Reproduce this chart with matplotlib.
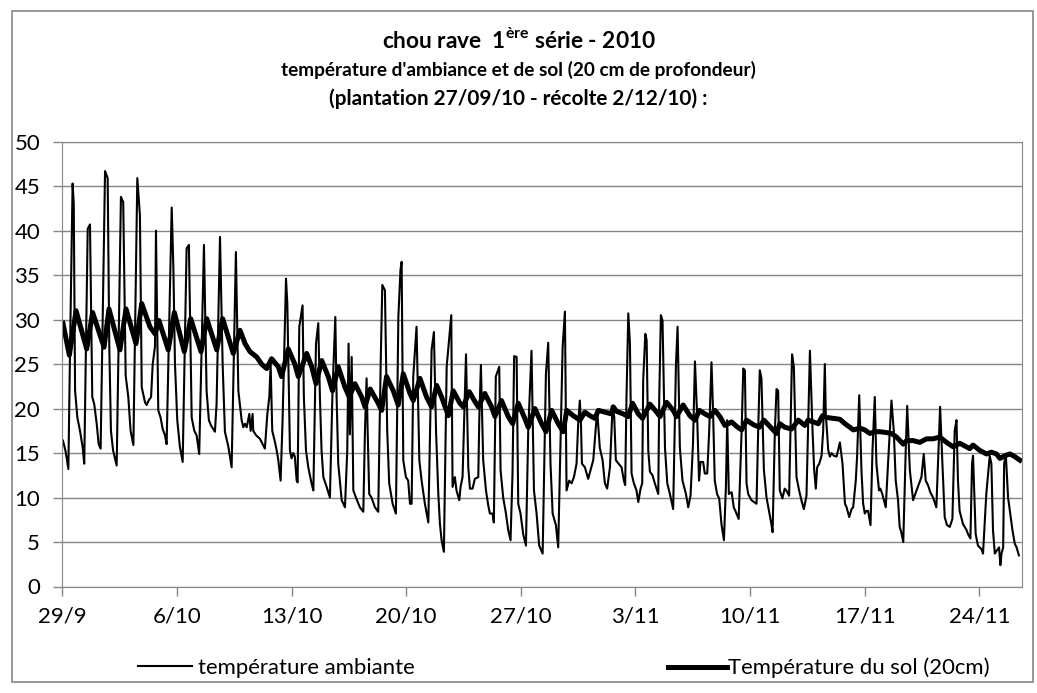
import matplotlib
matplotlib.use("Agg")
import matplotlib.pyplot as plt
from matplotlib.patches import Rectangle

# jours depuis le 29/9 (0 = 29/9 à 0h) et températures
amb_t = [0.04, 0.2, 0.37, 0.5, 0.63, 0.7, 0.78, 0.92, 1.08, 1.24, 1.34, 1.55, 1.69, 1.83, 1.95,
         2.1, 2.22, 2.34, 2.61, 2.77, 2.87, 2.97, 3.1, 3.32, 3.58, 3.72, 3.87, 4.03, 4.17, 4.34,
         4.58, 4.74, 4.85, 5.05, 5.15, 5.27, 5.42, 5.52, 5.66, 5.72, 5.86, 6.0, 6.13, 6.27, 6.37,
         6.68, 6.78, 6.88, 7.02, 7.18, 7.35, 7.59, 7.73, 7.9, 8.06, 8.2, 8.36, 8.65, 8.81, 8.95,
         9.08, 9.32, 9.42, 9.63, 9.79, 9.93, 10.14, 10.34, 10.6, 10.75, 10.95, 11.05, 11.15, 11.26,
         11.42, 11.5, 11.62, 11.66, 11.83, 12.07, 12.37, 12.52, 12.64, 12.72, 12.82, 12.99, 13.09,
         13.19, 13.33, 13.45, 13.66, 13.74, 13.8, 13.9, 14.0, 14.1, 14.2, 14.31, 14.37, 14.47,
         14.67, 14.75, 14.88, 15.02, 15.22, 15.33, 15.49, 15.63, 15.73, 15.83, 15.94, 16.14, 16.34,
         16.5, 16.67, 16.75, 16.85, 17.06, 17.26, 17.4, 17.48, 17.56, 17.67, 17.77, 17.93, 18.17,
         18.38, 18.48, 18.58, 18.64, 18.74, 18.88, 19.09, 19.29, 19.44, 19.54, 19.7, 19.84, 19.96,
         20.17, 20.37, 20.52, 20.65, 20.72, 20.82, 20.98, 21.12, 21.23, 21.33, 21.43, 21.63, 21.8,
         21.94, 22.14, 22.35, 22.55, 22.69, 22.82, 22.96, 23.06, 23.16, 23.3, 23.47, 23.75, 23.83,
         23.97, 24.07, 24.24, 24.32, 24.44, 24.65, 24.79, 24.89, 25.05, 25.19, 25.4, 25.46, 25.56,
         25.7, 25.87, 26.01, 26.11, 26.27, 26.35, 26.47, 26.68, 26.76, 26.92, 27.09, 27.23, 27.37,
         27.49, 27.59, 27.74, 27.84, 27.98, 28.14, 28.31, 28.45, 28.65, 28.8, 28.96, 29.12, 29.33,
         29.53, 29.67, 29.81, 29.94, 30.14, 30.28, 30.55, 30.69, 30.79, 30.95, 31.1, 31.24, 31.4,
         31.5, 31.6, 31.67, 31.73, 31.91, 32.11, 32.26, 32.42, 32.58, 32.66, 32.82, 32.99, 33.13,
         33.27, 33.44, 33.6, 33.7, 33.8, 33.97, 34.15, 34.29, 34.37, 34.45, 34.56, 34.66, 34.76,
         34.9, 35.06, 35.17, 35.31, 35.41, 35.47, 35.6, 35.68, 35.78, 35.88, 36.04, 36.18, 36.39,
         36.45, 36.55, 36.65, 36.8, 36.94, 37.1, 37.3, 37.47, 37.57, 37.71, 37.87, 38.08, 38.22,
         38.36, 38.51, 38.63, 38.76, 38.88, 38.97, 39.13, 39.23, 39.38, 39.5, 39.64, 39.74, 39.84,
         39.98, 40.11, 40.25, 40.4, 40.52, 40.6, 40.7, 40.87, 41.0, 41.1, 41.3, 41.48, 41.58, 41.68,
         41.78, 41.88, 42.08, 42.23, 42.39, 42.49, 42.59, 42.69, 42.84, 43.0, 43.16, 43.3, 43.37,
         43.51, 43.61, 43.71, 43.81, 43.97, 44.11, 44.21, 44.38, 44.46, 44.56, 44.67, 44.83, 44.99,
         45.13, 45.28, 45.44, 45.65, 45.81, 45.91, 46.01, 46.09, 46.22, 46.36, 46.46, 46.56, 46.62,
         46.77, 46.87, 46.97, 47.11, 47.28, 47.48, 47.64, 47.79, 47.89, 48.05, 48.19, 48.29, 48.45,
         48.53, 48.66, 48.8, 48.9, 49.0, 49.1, 49.2, 49.35, 49.47, 49.61, 49.71, 49.87, 49.95, 50.07,
         50.28, 50.42, 50.63, 50.77, 50.89, 51.03, 51.13, 51.23, 51.35, 51.5, 51.59, 51.75, 51.95,
         52.16, 52.32, 52.46, 52.6, 52.72, 52.86, 53.0, 53.17, 53.37, 53.47, 53.6, 53.74, 53.88,
         54.02, 54.19, 54.35, 54.49, 54.6, 54.69, 54.79, 55.0, 55.2, 55.3, 55.45, 55.55, 55.61,
         55.77, 55.91, 56.12, 56.22, 56.42, 56.63, 56.73, 56.83, 56.94, 57.08, 57.2, 57.28, 57.35,
         57.45, 57.51, 57.61, 57.75, 57.86, 58.02, 58.16, 58.27, 58.41]
amb_v = [16.4, 15.2, 13.2, 30.0, 45.3, 43.0, 22.0, 19.0, 17.5, 15.7, 13.8, 40.2, 40.7, 21.3, 20.5,
         18.3, 16.0, 15.5, 46.7, 45.9, 26.9, 17.5, 15.3, 13.6, 43.8, 43.2, 23.7, 21.3, 17.5, 15.9,
         45.9, 41.7, 22.4, 20.7, 20.4, 20.9, 21.3, 25.0, 27.0, 40.0, 19.8, 19.0, 17.7, 17.0, 16.0,
         42.6, 36.0, 25.0, 18.7, 15.7, 14.0, 38.0, 38.4, 19.0, 17.5, 17.0, 14.9, 38.4, 22.0, 18.7,
         18.1, 17.4, 20.5, 39.3, 25.0, 17.4, 15.7, 13.4, 37.6, 22.0, 18.7, 17.9, 18.3, 17.9,
         19.4, 17.5, 19.4, 17.5, 17.0, 16.6, 15.5, 19.4, 21.3, 25.0, 17.5, 16.2, 15.3,
         14.2, 11.9, 18.7, 34.6, 31.8, 25.8, 15.3, 14.4, 15.0, 14.6, 11.9, 11.7, 29.2,
         31.6, 21.3, 15.3, 13.4, 11.6, 10.8, 27.3, 29.6, 21.3, 15.3, 12.3, 11.2, 10.0,
         22.0, 30.3, 21.3, 13.8, 9.7, 8.9, 15.3, 27.3, 17.1, 25.8, 10.8, 10.0, 8.9,
         8.4, 17.5, 23.4, 17.9, 10.4, 10.0, 8.9, 8.4, 25.0, 33.9, 33.3, 17.5, 11.6,
         9.3, 8.2, 30.3, 35.6, 36.5, 14.2, 12.3, 11.9, 9.3, 9.3, 23.6, 29.2, 14.2,
         11.9, 9.3, 7.2, 26.6, 28.6, 17.5, 10.4, 7.0, 5.2, 3.9, 24.7, 30.5, 11.2,
         12.3, 10.8, 9.7, 11.2, 12.3, 26.1, 13.4, 11.0, 11.0, 12.1, 12.3, 18.7, 24.9,
         14.2, 10.8, 9.1, 8.2, 8.2, 7.2, 23.6, 24.7, 13.1, 10.0, 8.2, 6.3, 5.2,
         12.7, 25.9, 25.8, 9.3, 8.2, 5.9, 4.6, 17.5, 26.5, 10.8, 8.2, 4.6, 3.7,
         23.9, 27.4, 13.8, 8.2, 6.9, 4.4, 26.9, 30.9, 10.8, 11.9, 11.6, 12.3, 13.8,
         18.3, 20.9, 18.3, 13.8, 13.4, 12.1, 13.1, 14.2, 17.9, 19.8, 15.6, 14.2, 11.6,
         11.0, 13.4, 20.2, 19.1, 14.2, 13.8, 13.4, 11.9, 11.4, 21.3, 30.7, 27.3, 12.7,
         11.6, 10.8, 9.5, 11.0, 11.6, 23.2, 28.4, 27.7, 15.3, 12.9, 12.5, 11.6, 10.4,
         21.3, 30.5, 29.9, 15.6, 11.6, 10.4, 8.7, 25.0, 29.2, 15.6, 11.9, 10.4, 8.9,
         10.2, 16.0, 25.3, 19.4, 11.9, 14.0, 14.0, 12.7, 12.7, 17.5, 25.2, 19.4, 11.9,
         10.4, 9.9, 7.0, 5.2, 11.2, 18.7, 10.4, 10.6, 8.9, 8.5, 7.6, 17.5, 24.5, 24.3,
         11.6, 10.4, 9.7, 9.5, 9.3, 17.5, 24.3, 23.4, 13.1, 10.0, 8.4, 7.0, 6.1,
         17.5, 22.2, 22.0, 10.8, 9.9, 11.0, 10.8, 10.2, 17.5, 26.1, 24.7, 12.3, 10.8,
         9.7, 8.7, 10.2, 26.5, 17.5, 13.1, 11.0, 13.4, 13.8, 14.7, 17.5, 25.0, 19.4,
         15.3, 14.6, 15.0, 14.7, 14.6, 16.2, 13.8, 9.3, 8.9, 7.8, 8.7, 8.9, 11.9,
         14.6, 21.5, 12.9, 9.3, 8.2, 8.5, 8.5, 6.9, 15.3, 21.3, 13.8, 10.8, 11.0, 10.4,
         8.9, 13.8, 20.9, 17.5, 11.9, 9.7, 6.7, 6.1, 5.0, 15.3, 20.3, 13.1, 9.7,
         10.8, 11.6, 12.3, 14.9, 11.9, 11.4, 10.6, 10.0, 8.9, 13.8, 20.2, 13.8, 7.8,
         6.9, 6.7, 7.6, 17.5, 18.7, 11.9, 8.5, 7.0, 6.4, 5.9, 5.4, 13.8, 14.7,
         5.9, 4.6, 4.2, 3.7, 10.4, 14.7, 13.8, 6.3, 3.7, 4.1, 4.4, 2.4, 3.7,
         4.4, 13.8, 14.9, 10.0, 8.5, 6.3, 4.8, 4.4, 3.5]

sol_t = [0.04, 0.43, 0.84, 1.49, 1.85, 2.55, 2.85, 3.52, 3.89, 4.5, 4.85, 5.35, 5.66, 5.9, 6.47,
         6.84, 7.45, 7.84, 8.47, 8.82, 9.43, 9.79, 10.44, 10.85, 11.16, 11.46, 11.87, 12.17, 12.48,
         12.78, 13.19, 13.39, 13.8, 14.2, 14.41, 14.92, 15.23, 15.49, 15.84, 16.24, 16.5, 16.85,
         17.26, 17.52, 17.87, 18.28, 18.48, 18.8, 19.29, 19.5, 19.8, 20.21, 20.51, 20.82, 21.23,
         21.43, 21.84, 22.24, 22.55, 22.86, 23.16, 23.57, 23.87, 24.28, 24.48, 24.85, 25.19, 25.4,
         25.8, 26.21, 26.42, 26.82, 27.23, 27.5, 27.84, 28.24, 28.45, 28.86, 29.27, 29.53, 29.88,
         30.28, 30.59, 30.8, 31.2, 31.61, 31.91, 32.22, 32.52, 32.73, 33.13, 33.54, 33.64, 33.84,
         34.25, 34.56, 34.82, 35.17, 35.43, 35.88, 36.29, 36.5, 36.9, 37.3, 37.5, 37.91, 38.32,
         38.63, 38.9, 39.24, 39.55, 39.85, 40.15, 40.46, 40.87, 41.17, 41.48, 41.78, 42.19, 42.56,
         42.84, 43.2, 43.61, 43.81, 44.12, 44.53, 44.94, 45.34, 45.54, 45.85, 46.16, 46.42, 46.67,
         47.07, 47.48, 47.79, 48.09, 48.3, 48.7, 49.0, 49.31, 49.61, 49.92, 50.33, 50.63, 50.94,
         51.35, 51.55, 51.96, 52.36, 52.77, 53.17, 53.58, 53.99, 54.4, 54.6, 54.8, 55.21, 55.41,
         55.61, 56.02, 56.43, 56.73, 57.04, 57.25, 57.55, 57.86, 58.16, 58.47]
sol_v = [29.6, 26.0, 31.0, 26.7, 30.8, 26.9, 31.2, 26.6, 31.2, 27.3, 31.8, 29.2, 28.4, 29.9, 26.6,
         30.8, 26.4, 30.1, 26.4, 30.1, 26.6, 30.1, 26.2, 28.8, 27.3, 26.4, 25.8, 25.0, 24.5,
         25.6, 24.7, 23.6, 26.7, 25.0, 23.6, 26.2, 24.7, 22.8, 25.4, 23.6, 22.0, 24.7,
         22.4, 21.3, 22.8, 21.3, 20.2, 22.2, 20.6, 19.8, 23.6, 22.0, 20.4, 23.9, 21.7,
         20.9, 23.4, 21.3, 20.2, 22.6, 21.3, 19.2, 22.0, 20.6, 20.2, 21.9, 20.8, 20.2,
         21.7, 20.2, 19.1, 20.9, 19.1, 18.3, 20.6, 18.9, 17.9, 20.0, 18.3, 17.4, 19.8,
         18.3, 17.4, 19.8, 19.2, 18.7, 19.6, 19.2, 18.9, 19.8, 19.6, 19.4, 20.2, 19.7,
         19.4, 19.1, 20.6, 19.4, 18.9, 20.5, 19.6, 19.1, 20.7, 19.8, 19.1, 20.4, 19.2,
         18.7, 19.8, 19.4, 19.1, 19.8, 19.1, 18.1, 18.5, 18.0, 17.6, 18.7, 18.2, 17.9,
         18.7, 18.0, 17.2, 18.3, 17.9, 17.7, 18.7, 18.1, 18.7, 18.5, 18.3, 19.2, 19.0,
         18.9, 18.8, 18.3, 17.9, 17.6, 17.8, 17.6, 17.2, 17.4, 17.4, 17.3, 17.2, 16.8,
         16.0, 16.4, 16.4, 16.2, 16.6, 16.6, 16.8, 16.2, 15.7, 15.9, 16.1, 15.7, 15.5,
         15.9, 15.3, 14.9, 15.1, 14.9, 14.4, 14.7, 14.9, 14.6, 14.2]

jours_ticks = [0, 7, 14, 21, 28, 35, 42, 49, 56]
labels_ticks = ['29/9', '6/10', '13/10', '20/10', '27/10', '3/11', '10/11', '17/11', '24/11']

titre1 = r'chou rave  1$^{\mathregular{ère}}$ série - 2010'
titre2 = "température d'ambiance et de sol (20 cm de profondeur)"
titre3 = '(plantation 27/09/10 - récolte 2/12/10) :'

plt.rcParams['font.family'] = ['Lato', 'DejaVu Sans']
gris = '#868686'
W, H = 1037, 693

fig = plt.figure(figsize=(W / 100, H / 100), dpi=100)
rend = fig.canvas.get_renderer()


def taille_pour(texte, largeur_px, poids='normal'):
    # taille de police qui donne la largeur voulue (en pixels)
    t = fig.text(0, 0, texte, fontsize=10, fontweight=poids)
    w = t.get_window_extent(renderer=rend).width
    t.remove()
    return 10 * largeur_px / w


ax = fig.add_axes([62.3 / W, 1 - 586.5 / H, (1022 - 62.3) / W, (586.5 - 141.7) / H])

l_amb, = ax.plot(amb_t, amb_v, color='black', lw=1.5)
l_sol, = ax.plot(sol_t, sol_v, color='black', lw=3.6)

ax.set_xlim(0, 58.6)
ax.set_ylim(0, 50)
ax.set_yticks(range(0, 51, 5))
ax.set_xticks(jours_ticks)
ax.set_xticklabels(labels_ticks)
ax.grid(axis='y', color=gris, lw=1)
ax.set_axisbelow(True)
ax.tick_params(axis='both', direction='out', length=6.5, width=1, color=gris, labelsize=16)
ax.tick_params(axis='y', pad=9.5)
ax.tick_params(axis='x', pad=8)
for s in ax.spines.values():
    s.set_color(gris)

fig.text(0.5, 1 - 48 / H, titre1, ha='center', va='baseline',
         fontsize=taille_pour(titre1, 275, 'bold'), fontweight='bold')
fig.text(0.5, 1 - 76 / H, titre2, ha='center', va='baseline',
         fontsize=taille_pour(titre2, 478, 'bold'), fontweight='bold')
fig.text(0.5, 1 - 105 / H, titre3, ha='center', va='baseline',
         fontsize=taille_pour(titre3, 380, 'bold'), fontweight='bold')

fs_leg = taille_pour('Température du sol (20cm)', 262)
leg1 = fig.legend([l_amb], ['température ambiante'], loc='center left',
                  bbox_to_anchor=(138 / W, 1 - 668 / H), frameon=False, fontsize=fs_leg,
                  borderpad=0, borderaxespad=0, handlelength=54 / (fs_leg * 1.389),
                  handletextpad=6 / (fs_leg * 1.389))
leg2 = fig.legend([l_sol], ['Température du sol (20cm)'], loc='center left',
                  bbox_to_anchor=(668 / W, 1 - 668 / H), frameon=False, fontsize=fs_leg,
                  borderpad=0, borderaxespad=0, handlelength=59 / (fs_leg * 1.389),
                  handletextpad=1 / (fs_leg * 1.389))

fig.patches.append(Rectangle((12 / W, 11 / H), (1033 - 12) / W, (682 - 11) / H,
                             transform=fig.transFigure, fill=False, edgecolor=gris, lw=1.2))

fig.savefig('out.png', dpi=100)
